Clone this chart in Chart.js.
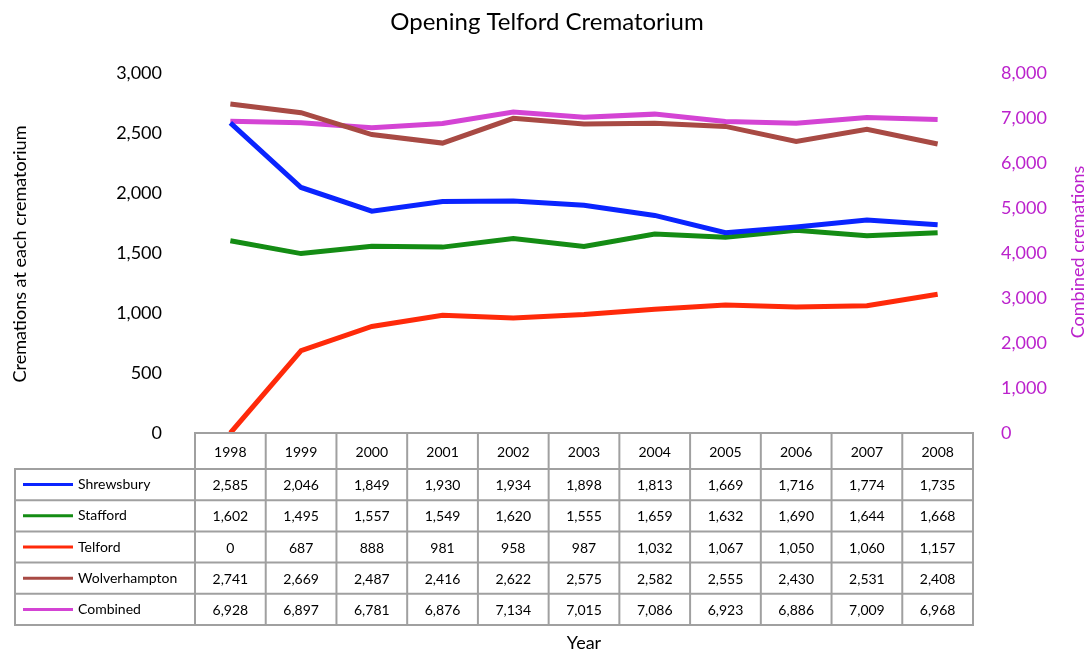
<!DOCTYPE html>
<html lang="en">
<head>
<meta charset="UTF-8">
<title>Opening Telford Crematorium</title>
<script src="https://cdn.jsdelivr.net/npm/chart.js"></script>
<style>
  html, body { margin: 0; padding: 0; background: #fff; }
  #wrap { width: 1089px; height: 652px; }
</style>
</head>
<body>
<div id="wrap"><canvas id="chart" width="1089" height="652"></canvas></div>
<script>
const years = ['1998', '1999', '2000', '2001', '2002', '2003', '2004', '2005', '2006', '2007', '2008'];
const shrewsbury = [2585, 2046, 1849, 1930, 1934, 1898, 1813, 1669, 1716, 1774, 1735];
const stafford = [1602, 1495, 1557, 1549, 1620, 1555, 1659, 1632, 1690, 1644, 1668];
const telford = [0, 687, 888, 981, 958, 987, 1032, 1067, 1050, 1060, 1157];
const wolverhampton = [2741, 2669, 2487, 2416, 2622, 2575, 2582, 2555, 2430, 2531, 2408];
const combined = [6928, 6897, 6781, 6876, 7134, 7015, 7086, 6923, 6886, 7009, 6968];

const FONT = 'Lato, "Open Sans", sans-serif';
const RIGHT_COLOR = '#bb22cc';
const fmt = v => Number(v).toLocaleString('en-US');

function series(label, data, color, axis) {
  return {
    label: label,
    data: data,
    borderColor: color,
    backgroundColor: color,
    borderWidth: 5,
    pointRadius: 0,
    tension: 0,
    yAxisID: axis
  };
}

function rotatedText(ctx, text, cx, cy, color) {
  ctx.save();
  ctx.translate(cx, cy);
  ctx.rotate(-Math.PI / 2);
  ctx.fillStyle = color;
  ctx.textAlign = 'center';
  ctx.textBaseline = 'middle';
  ctx.fillText(text, 0, 0);
  ctx.restore();
}

// titles and the data table under the plot
const tablePlugin = {
  id: 'dataTable',
  afterDraw(chart) {
    const ctx = chart.ctx;
    const x = chart.scales.x;
    const area = chart.chartArea;
    const half = (x.getPixelForValue(1) - x.getPixelForValue(0)) / 2;
    const top = area.bottom;
    const headH = 36, rowH = 31.2;
    const labelLeft = 15;

    ctx.save();
    ctx.fillStyle = '#000';
    ctx.font = '24px ' + FONT;
    ctx.textAlign = 'center';
    ctx.textBaseline = 'middle';
    ctx.fillText('Opening Telford Crematorium', 547, 22);

    ctx.font = '18px ' + FONT;
    rotatedText(ctx, 'Cremations at each crematorium', 20, 254, '#000');
    rotatedText(ctx, 'Combined cremations', 1078, 252, RIGHT_COLOR);

    ctx.strokeStyle = '#a0a0a0';
    ctx.lineWidth = 2;
    const rows = chart.data.datasets.length;
    ctx.strokeRect(area.left, top, area.right - area.left, headH);
    ctx.strokeRect(labelLeft, top + headH, area.right - labelLeft, rows * rowH);
    for (let i = 1; i < years.length; i++) {
      const bx = x.getPixelForValue(i) - half;
      ctx.beginPath();
      ctx.moveTo(bx, top);
      ctx.lineTo(bx, top + headH + rows * rowH);
      ctx.stroke();
    }
    ctx.beginPath();
    ctx.moveTo(area.left, top + headH);
    ctx.lineTo(area.left, top + headH + rows * rowH);
    ctx.stroke();
    for (let r = 1; r < rows; r++) {
      ctx.beginPath();
      ctx.moveTo(labelLeft, top + headH + r * rowH);
      ctx.lineTo(area.right, top + headH + r * rowH);
      ctx.stroke();
    }

    ctx.font = '14px ' + FONT;
    ctx.fillStyle = '#000';
    years.forEach((y, i) => {
      ctx.textAlign = 'center';
      ctx.fillText(y, x.getPixelForValue(i), top + headH / 2 + 1);
    });
    chart.data.datasets.forEach((ds, r) => {
      const cy = top + headH + r * rowH + rowH / 2;
      ctx.strokeStyle = ds.borderColor;
      ctx.lineWidth = 3;
      ctx.beginPath();
      ctx.moveTo(23, cy);
      ctx.lineTo(73, cy);
      ctx.stroke();
      ctx.fillStyle = '#000';
      ctx.textAlign = 'left';
      ctx.fillText(ds.label, 78, cy);
      ctx.textAlign = 'center';
      ds.data.forEach((v, i) => ctx.fillText(fmt(v), x.getPixelForValue(i), cy + 1));
    });

    ctx.font = '18px ' + FONT;
    ctx.textAlign = 'center';
    ctx.fillText('Year', (area.left + area.right) / 2, 643);
    ctx.restore();
  }
};

new Chart(document.getElementById('chart'), {
  type: 'line',
  data: {
    labels: years,
    datasets: [
      series('Shrewsbury', shrewsbury, '#0a24ff', 'y'),
      series('Stafford', stafford, '#148c14', 'y'),
      series('Telford', telford, '#ff2a0a', 'y'),
      series('Wolverhampton', wolverhampton, '#a84a44', 'y'),
      series('Combined', combined, '#d444d4', 'y1')
    ]
  },
  options: {
    responsive: false,
    animation: false,
    layout: { padding: { top: 73, bottom: 219, left: 0, right: 0 } },
    plugins: {
      legend: { display: false },
      title: { display: false },
      tooltip: { enabled: false }
    },
    scales: {
      x: {
        display: false,
        offset: true
      },
      y: {
        position: 'left',
        min: 0,
        max: 3000,
        afterFit(scale) { scale.width = 195; },
        grid: { display: false },
        border: { display: false },
        ticks: {
          stepSize: 500,
          padding: 25,
          color: '#000',
          font: { family: FONT, size: 18 },
          callback: v => fmt(v)
        }
      },
      y1: {
        position: 'right',
        min: 0,
        max: 8000,
        afterFit(scale) { scale.width = 116; },
        grid: { display: false },
        border: { display: false },
        ticks: {
          stepSize: 1000,
          padding: 20,
          color: RIGHT_COLOR,
          font: { family: FONT, size: 18 },
          callback: v => fmt(v)
        }
      }
    }
  },
  plugins: [tablePlugin]
});
</script>
</body>
</html>
